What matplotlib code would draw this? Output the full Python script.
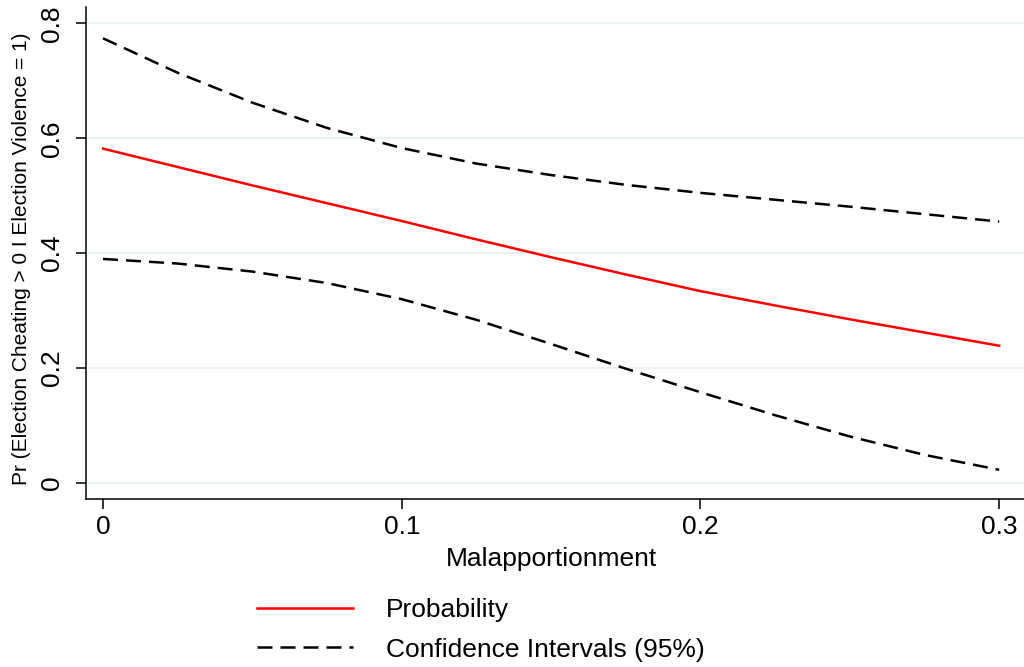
import matplotlib
matplotlib.use("Agg")
import matplotlib.pyplot as plt

plt.rcParams['font.family'] = ['Liberation Sans', 'DejaVu Sans']

# Data
malapportionment = [0.0, 0.025, 0.05, 0.075, 0.1, 0.125, 0.15, 0.175, 0.2, 0.225, 0.25, 0.275, 0.3]
probability = [0.582, 0.550, 0.518, 0.487, 0.456, 0.424, 0.393, 0.363, 0.334, 0.309, 0.285, 0.262, 0.239]
ci_upper = [0.774, 0.714, 0.662, 0.618, 0.583, 0.556, 0.536, 0.519, 0.505, 0.493, 0.481, 0.468, 0.455]
ci_lower = [0.390, 0.382, 0.368, 0.348, 0.320, 0.284, 0.242, 0.199, 0.158, 0.118, 0.081, 0.049, 0.023]

x_ticks = [0, 0.1, 0.2, 0.3]
x_tick_labels = ["0", "0.1", "0.2", "0.3"]
y_ticks = [0, 0.2, 0.4, 0.6, 0.8]
y_tick_labels = ["0", "0.2", "0.4", "0.6", "0.8"]

W, H = 1024, 667
fig = plt.figure(figsize=(W / 100, H / 100), dpi=100)
ax = fig.add_axes([86 / W, 1 - 499 / H, (W - 86) / W, (499 - 7) / H])

ax.set_xlim(-0.0057, 0.3083)
ax.set_ylim(-0.0278, 0.8285)

for v in y_ticks:
    ax.axhline(v, color='#EAF2F3', lw=1.6, zorder=0)

dash = (6.0, 3.2)
l1, = ax.plot(malapportionment, probability, color='#FF0000', lw=1.8, label='Probability', zorder=3)
l2, = ax.plot(malapportionment, ci_upper, color='black', lw=1.8, dashes=dash,
              label='Confidence Intervals (95%)', zorder=2)
ax.plot(malapportionment, ci_lower, color='black', lw=1.8, dashes=dash, zorder=2)

for s in ['top', 'right']:
    ax.spines[s].set_visible(False)
for s in ['left', 'bottom']:
    ax.spines[s].set_linewidth(1.1)
    ax.spines[s].set_color('black')

ax.set_xticks(x_ticks)
ax.set_xticklabels(x_tick_labels)
ax.set_yticks(y_ticks)
ax.set_yticklabels(y_tick_labels, rotation=90, va='center')
ax.tick_params(axis='both', direction='out', length=7.5, width=1.1, labelsize=19, color='black')
ax.tick_params(axis='x', pad=4)
ax.tick_params(axis='y', pad=8)

fig.text(551 / W, 1 - 566 / H, 'Malapportionment', ha='center', va='baseline', fontsize=19)
fig.text(22 / W, 1 - 259 / H, 'Pr (Election Cheating > 0 I Election Violence = 1)',
         rotation=90, ha='center', va='center', fontsize=15)

fig.legend(handles=[l1, l2], loc='center left', bbox_to_anchor=(257 / W, 1 - 630 / H),
           frameon=False, fontsize=19, handlelength=3.65, handletextpad=1.25,
           labelspacing=0.58, borderaxespad=0, borderpad=0)

fig.savefig('out.png', dpi=100)
